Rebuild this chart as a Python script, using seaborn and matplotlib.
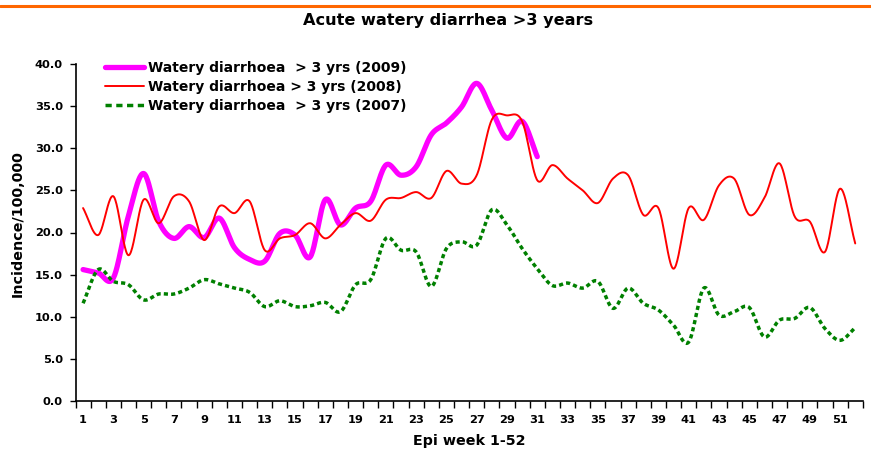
import numpy as np
import pandas as pd
import matplotlib
matplotlib.use("Agg")
import matplotlib.pyplot as plt
from matplotlib.lines import Line2D
import seaborn as sns

weeks_2009 = list(range(1, 32))
vals_2009 = [15.6, 15.2, 14.6, 22.0, 27.0, 21.3, 19.3, 20.7, 19.4, 21.7,
             18.2, 16.8, 16.6, 19.9, 19.7, 17.1, 23.9, 20.9, 22.9, 23.7,
             28.0, 26.8, 27.8, 31.6, 33.0, 34.9, 37.7, 34.5, 31.2, 33.2, 29.0]

weeks_all = list(range(1, 53))
vals_2008 = [22.9, 19.7, 24.3, 17.3, 23.9, 21.1, 24.3, 23.7, 19.1, 23.1,
             22.3, 23.7, 17.9, 19.3, 19.7, 21.1, 19.3, 20.9, 22.3, 21.4,
             23.9, 24.1, 24.8, 24.1, 27.3, 25.8, 26.8, 33.4, 33.9, 33.2,
             26.2, 28.0, 26.4, 25.0, 23.5, 26.4, 26.8, 22.1, 22.9, 15.7,
             22.9, 21.5, 25.6, 26.4, 22.1, 24.1, 28.2, 21.9, 21.3, 17.7,
             25.2, 18.7]
vals_2007 = [11.6, 15.6, 14.2, 13.8, 12.0, 12.7, 12.7, 13.4, 14.4, 13.9,
             13.4, 12.9, 11.2, 11.9, 11.2, 11.3, 11.7, 10.6, 13.8, 14.4,
             19.3, 17.9, 17.7, 13.6, 18.1, 18.9, 18.5, 22.7, 20.9, 18.1,
             15.7, 13.7, 14.0, 13.4, 14.2, 11.0, 13.4, 11.6, 10.8, 9.0,
             7.0, 13.4, 10.2, 10.6, 11.1, 7.6, 9.6, 9.8, 11.1, 8.6,
             7.2, 8.7]

labels = ["Watery diarrhoea  > 3 yrs (2009)",
          "Watery diarrhoea > 3 yrs (2008)",
          "Watery diarrhoea  > 3 yrs (2007)"]
title = "Acute watery diarrhea >3 years"
xlabel = "Epi week 1-52"
ylabel = "Incidence/100,000"
xtick_weeks = list(range(1, 52, 2))
yticks = [0, 5, 10, 15, 20, 25, 30, 35, 40]


def smooth(x, y, n=24):
    """Catmull-Rom smoothing for rendering (like Excel smoothed lines)."""
    p = np.column_stack([np.asarray(x, float), np.asarray(y, float)])
    p = np.vstack([2 * p[0] - p[1], p, 2 * p[-1] - p[-2]])
    out = []
    t = np.linspace(0, 1, n, endpoint=False)[:, None]
    for i in range(1, len(p) - 2):
        p0, p1, p2, p3 = p[i - 1], p[i], p[i + 1], p[i + 2]
        seg = 0.5 * ((2 * p1) + (-p0 + p2) * t +
                     (2 * p0 - 5 * p1 + 4 * p2 - p3) * t ** 2 +
                     (-p0 + 3 * p1 - 3 * p2 + p3) * t ** 3)
        out.append(seg)
    out.append(p[-2][None, :])
    s = np.vstack(out)
    return s[:, 0], s[:, 1]


sns.set_style("white")
plt.rcParams["font.family"] = ["DejaVu Sans"]
plt.rcParams["font.weight"] = "bold"
plt.rcParams["text.color"] = "black"
plt.rcParams["xtick.color"] = "black"
plt.rcParams["ytick.color"] = "black"

fig = plt.figure(figsize=(8.71, 4.51), dpi=100)
ax = fig.add_axes([75.5 / 871, 1 - 401 / 451, (862.8 - 75.5) / 871, (401 - 64) / 451])

series = [
    (weeks_2009, vals_2009, labels[0], "#FF00FF", 3.8, "-"),
    (weeks_all, vals_2008, labels[1], "#FF0000", 1.4, "-"),
    (weeks_all, vals_2007, labels[2], "#008000", 2.5, (0, (1.2, 0.9))),
]
handles = []
for x, y, lab, col, lw, ls in series:
    sx, sy = smooth(x, y)
    df = pd.DataFrame({"week": sx, "value": sy})
    sns.lineplot(data=df, x="week", y="value", ax=ax, color=col, linewidth=lw,
                 linestyle=ls, sort=False, estimator=None, label=lab,
                 legend=False)
    hls = ls if ls == "-" else (0, (1.8, 1.3))
    handles.append(Line2D([], [], color=col, lw=lw, linestyle=hls))

ax.set_xlim(0.5, 52.5)
ax.set_ylim(0, 40)
ax.set_yticks(yticks)
ax.set_yticklabels([f"{v:.1f}" for v in yticks], fontsize=8.2, fontweight="bold")
ax.set_xticks(xtick_weeks)
ax.set_xticklabels([str(w) for w in xtick_weeks], fontsize=8.2, fontweight="bold")
ax.set_xticks(np.arange(0.5, 53, 1.0), minor=True)
ax.tick_params(axis="x", which="major", length=0, pad=10)
ax.tick_params(axis="x", which="minor", length=5, width=1, color="black",
               direction="out", bottom=True)
ax.tick_params(axis="y", which="major", length=4, width=1, color="black",
               direction="out", left=True, pad=5)
ax.set_xlabel("")
ax.set_ylabel("")
for s in ["top", "right"]:
    ax.spines[s].set_visible(False)
for s in ["left", "bottom"]:
    ax.spines[s].set_color("black")
    ax.spines[s].set_linewidth(1.2)

fig.text(18 / 871, 1 - 224 / 451, ylabel, rotation=90, ha="center", va="center",
         fontsize=10.3, fontweight="bold")
fig.text(469 / 871, 1 - 441 / 451, xlabel, ha="center", va="center",
         fontsize=10.3, fontweight="bold")
fig.text(448 / 871, 1 - 21 / 451, title, ha="center", va="center",
         fontsize=11.6, fontweight="bold")
fig.add_artist(Line2D([0, 1], [1 - 6 / 451] * 2, color="#FF6600", lw=2.2,
                      transform=fig.transFigure))

fig.legend(handles, labels, loc="upper left",
           bbox_to_anchor=(105 / 871, 1 - 61 / 451),
           bbox_transform=fig.transFigure, frameon=False,
           prop={"size": 10, "weight": "bold"}, handlelength=2.8,
           handletextpad=0.3, labelspacing=0.37, borderpad=0, borderaxespad=0)

fig.savefig("out.png", dpi=100)
